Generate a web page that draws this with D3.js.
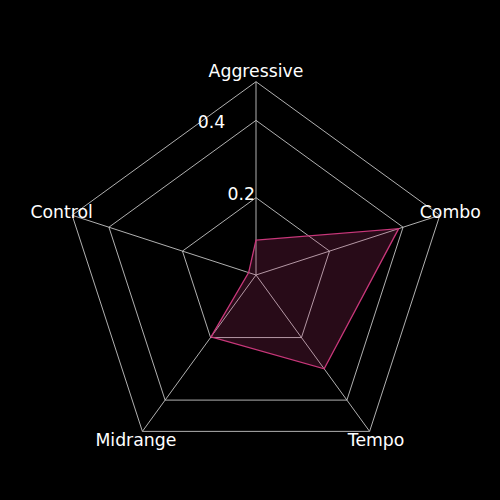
<!DOCTYPE html>
<html>
<head>
<meta charset="utf-8">
<script src="https://cdn.jsdelivr.net/npm/d3@7"></script>
<style>
html,body{margin:0;padding:0;background:#000;}
svg{display:block;}
text{font-family:"DejaVu Sans",sans-serif;fill:#fff;}
</style>
</head>
<body>
<svg id="chart" width="500" height="500"></svg>
<script>
const categories = ["Aggressive", "Combo", "Tempo", "Midrange", "Control"];
const values = [0.09, 0.388, 0.30, 0.198, 0.02];
const gridLevels = [0.2, 0.4];
const tickLabels = ["0.2", "0.4"];
const maxValue = 0.5;

const W = 500, H = 500;
const cx = 256, cy = 275, R = 193.3;
const svg = d3.select("#chart");
svg.append("rect").attr("width", W).attr("height", H).attr("fill", "#000");

const r = d3.scaleLinear().domain([0, maxValue]).range([0, R]);
const angle = d3.scaleLinear().domain([0, categories.length]).range([0, 2 * Math.PI]);
const g = svg.append("g").attr("transform", `translate(${cx},${cy})`);

const pt = (i, v) => {
  const a = angle(i);
  return [r(v) * Math.sin(a), -r(v) * Math.cos(a)];
};
const line = d3.line().curve(d3.curveLinearClosed);

// grid pentagons + frame
[...gridLevels, maxValue].forEach(lv => {
  g.append("path")
    .attr("d", line(categories.map((c, i) => pt(i, lv))))
    .attr("fill", "none")
    .attr("stroke", "#c4c4c4")
    .attr("stroke-width", 0.9);
});
// spokes
categories.forEach((c, i) => {
  const p = pt(i, maxValue);
  g.append("line").attr("x1", 0).attr("y1", 0).attr("x2", p[0]).attr("y2", p[1])
    .attr("stroke", "#c4c4c4").attr("stroke-width", 0.9);
});

// data polygon
g.append("path")
  .attr("d", line(values.map((v, i) => pt(i, v))))
  .attr("fill", "rgb(200,55,122)")
  .attr("fill-opacity", 0.2)
  .attr("stroke", "#c8377a")
  .attr("stroke-width", 1.3);

// category labels
const labelR = maxValue * 1.057;
categories.forEach((c, i) => {
  const p = pt(i, labelR);
  g.append("text").attr("x", p[0]).attr("y", p[1])
    .attr("text-anchor", "middle").attr("dominant-baseline", "central")
    .attr("font-size", "17.3px").text(c);
});

// radial tick labels at 22.5 deg left of vertical
gridLevels.forEach((lv, k) => {
  const a = -22.5 * Math.PI / 180;
  const x = r(lv) * Math.sin(a), y = -r(lv) * Math.cos(a);
  g.append("text").attr("x", x + 1).attr("y", y - 4)
    .attr("text-anchor", "start")
    .attr("font-size", "17.3px").text(tickLabels[k]);
});
</script>
</body>
</html>
